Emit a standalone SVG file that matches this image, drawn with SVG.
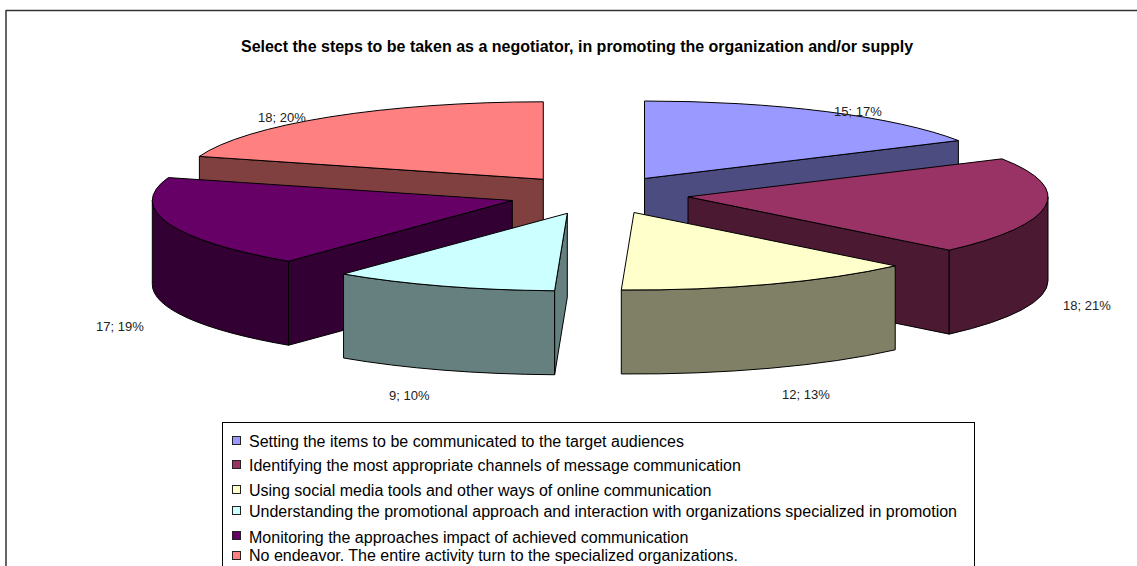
<svg xmlns="http://www.w3.org/2000/svg" width="1137" height="566" viewBox="0 0 1137 566">
<style>
text{font-family:"Liberation Sans",Arial,sans-serif;fill:#000}
.title{font-size:16px;font-weight:bold}
.lbl{font-size:13px;fill:#222}
.leg{font-size:16px}
.f{stroke:#000;stroke-width:1;stroke-linejoin:round}
.sw{stroke:#222;stroke-width:1}
</style>
<rect x="0" y="0" width="1137" height="566" fill="#fff"/>
<g id="frame">
<path d="M6,10.5 H1137 M6,10 V566" fill="none" stroke="#333" stroke-width="1.5"/>
</g>
<text class="title" x="577" y="52" text-anchor="middle">Select the steps to be taken as a negotiator, in promoting the organization and/or supply</text>

<g id="slice-pink">
<path class="f" fill="#804040" d="M543.3,179.3 L199.38,156.39 L199.38,240.39 L543.3,263.3 Z"/>
<path class="f" fill="#FF8080" d="M543.3,179.3 L199.38,156.39 A360,77.5 0 0 1 543.3,101.8 Z"/>
</g>
<g id="slice-blue">
<path class="f" fill="#4C4C80" d="M644.5,178.5 L958.39,140.54 L958.39,224.54 L644.5,262.5 Z"/>
<path class="f" fill="#9999FF" d="M644.5,178.5 L644.5,101 A360,77.5 0 0 1 958.39,140.54 Z"/>
</g>
<g id="slice-purple">
<path class="f" fill="#330033" d="M512.3,200.5 L288.55,261.22 L288.55,345.22 L512.3,284.5 Z"/>
<path class="f" fill="#330033" d="M288.55,261.22 A360,77.5 0 0 1 152.3,200.5 L152.3,284.5 A360,77.5 0 0 0 288.55,345.22 Z"/>
<path class="f" fill="#660066" d="M512.3,200.5 L288.55,261.22 A360,77.5 0 0 1 168.38,177.59 Z"/>
</g>
<g id="slice-maroon">
<path class="f" fill="#4C1933" d="M688,196.8 L949.22,250.13 L949.22,334.13 L688,280.8 Z"/>
<path class="f" fill="#4C1933" d="M1048,196.8 A360,77.5 0 0 1 949.22,250.13 L949.22,334.13 A360,77.5 0 0 0 1048,280.8 Z"/>
<path class="f" fill="#993366" d="M688,196.8 L1001.89,158.84 A360,77.5 0 0 1 949.22,250.13 Z"/>
</g>
<g id="slice-cyan">
<path class="f" fill="#668080" d="M567.3,213.3 L554.6,290.75 L554.6,374.75 L567.3,297.3 Z"/>
<path class="f" fill="#668080" d="M554.6,290.75 A360,77.5 0 0 1 343.55,274.02 L343.55,358.02 A360,77.5 0 0 0 554.6,374.75 Z"/>
<path class="f" fill="#CCFFFF" d="M567.3,213.3 L554.6,290.75 A360,77.5 0 0 1 343.55,274.02 Z"/>
</g>
<g id="slice-yellow">
<path class="f" fill="#808066" d="M895.22,265.83 A360,77.5 0 0 1 621.3,289.95 L621.3,373.95 A360,77.5 0 0 0 895.22,349.83 Z"/>
<path class="f" fill="#FFFFCC" d="M634,212.5 L895.22,265.83 A360,77.5 0 0 1 621.3,289.95 Z"/>
</g>

<g id="labels">
<text class="lbl" x="834" y="116">15; 17%</text>
<text class="lbl" x="1063" y="309.5">18; 21%</text>
<text class="lbl" x="782" y="399">12; 13%</text>
<text class="lbl" x="389" y="400">9; 10%</text>
<text class="lbl" x="96" y="331">17; 19%</text>
<text class="lbl" x="258" y="122">18; 20%</text>
</g>

<g id="legend">
<rect x="222.5" y="422.5" width="752" height="160" fill="#fff" stroke="#000" stroke-width="1"/>
<rect class="sw" x="232.5" y="436.5" width="8" height="8" fill="#9999FF"/>
<text class="leg" x="249" y="447">Setting the items to be communicated to the target audiences</text>
<rect class="sw" x="232.5" y="460.5" width="8" height="8" fill="#993366"/>
<text class="leg" x="249" y="471">Identifying the most appropriate channels of message communication</text>
<rect class="sw" x="232.5" y="485.5" width="8" height="8" fill="#FFFFCC"/>
<text class="leg" x="249" y="496">Using social media tools and other ways of online communication</text>
<rect class="sw" x="232.5" y="506.5" width="8" height="8" fill="#CCFFFF"/>
<text class="leg" x="249" y="517">Understanding the promotional approach and interaction with organizations specialized in promotion</text>
<rect class="sw" x="232.5" y="531.5" width="8" height="8" fill="#660066"/>
<text class="leg" x="249" y="543">Monitoring the approaches impact of achieved communication</text>
<rect class="sw" x="232.5" y="551.5" width="8" height="8" fill="#FF8080"/>
<text class="leg" x="249" y="561">No endeavor. The entire activity turn to the specialized organizations.</text>
</g>
</svg>
